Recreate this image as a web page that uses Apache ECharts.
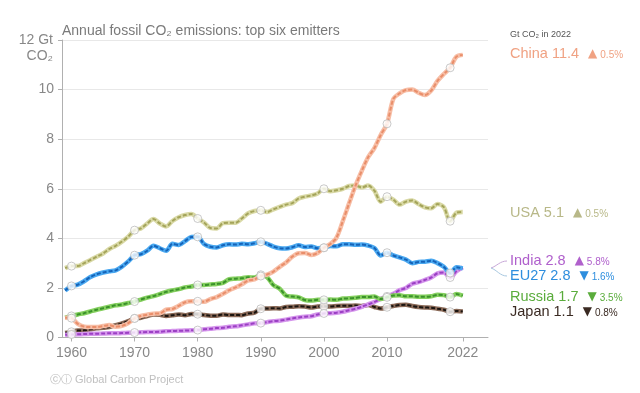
<!DOCTYPE html>
<html>
<head>
<meta charset="utf-8">
<script src="https://cdn.jsdelivr.net/npm/echarts@6/dist/echarts.min.js"></script>
<style>html,body{margin:0;padding:0;background:#fff}#c{width:640px;height:393px}</style>
</head>
<body>
<div id="c"></div>
<script>
var years = [1959,1960,1961,1962,1963,1964,1965,1966,1967,1968,1969,1970,1971,1972,1973,1974,1975,1976,1977,1978,1979,1980,1981,1982,1983,1984,1985,1986,1987,1988,1989,1990,1991,1992,1993,1994,1995,1996,1997,1998,1999,2000,2001,2002,2003,2004,2005,2006,2007,2008,2009,2010,2011,2012,2013,2014,2015,2016,2017,2018,2019,2020,2021,2022];
var china = [0.80,0.78,0.55,0.44,0.42,0.42,0.46,0.50,0.43,0.47,0.58,0.77,0.87,0.92,0.96,0.97,1.12,1.15,1.28,1.42,1.46,1.46,1.44,1.55,1.63,1.76,1.91,2.02,2.15,2.30,2.34,2.48,2.54,2.66,2.85,3.03,3.26,3.40,3.41,3.33,3.41,3.62,3.77,4.03,4.70,5.42,6.12,6.72,7.27,7.64,8.17,8.62,9.62,9.85,9.98,10.00,9.87,9.78,9.96,10.35,10.63,10.88,11.33,11.40];
var usa = [2.80,2.88,2.88,3.00,3.13,3.26,3.39,3.57,3.70,3.87,4.07,4.33,4.40,4.60,4.78,4.60,4.48,4.70,4.85,4.94,4.98,4.80,4.64,4.42,4.40,4.61,4.63,4.63,4.80,5.01,5.10,5.13,5.06,5.17,5.27,5.36,5.42,5.61,5.68,5.73,5.81,6.00,5.90,5.94,6.00,6.11,6.13,6.05,6.13,5.92,5.48,5.68,5.56,5.36,5.48,5.53,5.38,5.25,5.21,5.38,5.26,4.69,5.03,5.06];
var eu27 = [1.90,2.08,2.13,2.27,2.44,2.55,2.62,2.67,2.71,2.86,3.07,3.32,3.36,3.50,3.70,3.60,3.50,3.78,3.73,3.89,4.05,4.06,3.77,3.66,3.63,3.72,3.76,3.75,3.78,3.76,3.80,3.86,3.78,3.67,3.60,3.59,3.64,3.72,3.65,3.67,3.60,3.62,3.69,3.68,3.76,3.76,3.74,3.75,3.71,3.61,3.31,3.42,3.31,3.23,3.14,3.00,3.05,3.06,3.10,3.00,2.85,2.60,2.83,2.79];
var russia = [0.80,0.87,0.93,0.98,1.05,1.12,1.18,1.24,1.30,1.33,1.39,1.45,1.53,1.61,1.67,1.75,1.84,1.90,1.95,2.02,2.06,2.12,2.12,2.14,2.16,2.20,2.35,2.37,2.39,2.43,2.42,2.53,2.43,2.11,1.97,1.69,1.65,1.62,1.51,1.49,1.52,1.52,1.53,1.52,1.57,1.58,1.60,1.63,1.63,1.65,1.55,1.62,1.69,1.70,1.66,1.66,1.64,1.64,1.66,1.72,1.71,1.63,1.75,1.69];
var japan = [0.18,0.23,0.28,0.29,0.33,0.37,0.39,0.42,0.50,0.57,0.66,0.77,0.80,0.86,0.93,0.92,0.87,0.90,0.93,0.90,0.95,0.94,0.91,0.88,0.88,0.93,0.91,0.91,0.90,0.97,1.00,1.16,1.17,1.18,1.17,1.23,1.24,1.26,1.25,1.21,1.25,1.26,1.25,1.27,1.28,1.28,1.29,1.27,1.31,1.23,1.17,1.22,1.27,1.31,1.32,1.27,1.23,1.21,1.20,1.16,1.12,1.04,1.07,1.05];
var india = [0.11,0.12,0.13,0.14,0.15,0.15,0.16,0.17,0.17,0.18,0.19,0.20,0.21,0.22,0.22,0.23,0.25,0.26,0.27,0.28,0.29,0.30,0.33,0.35,0.38,0.39,0.43,0.45,0.49,0.53,0.57,0.58,0.62,0.66,0.68,0.72,0.77,0.81,0.84,0.86,0.93,0.97,0.98,1.00,1.04,1.10,1.16,1.24,1.34,1.43,1.56,1.66,1.76,1.91,2.00,2.17,2.23,2.32,2.42,2.59,2.62,2.42,2.67,2.83];
var markerYears = [1960,1970,1980,1990,2000,2010,2020];
var xTickLabels = [1960,1970,1980,1990,2000,2010,2022];

var seriesDefs = [
  {name:'Japan', data:japan, base:'#8a6a58', dash:'#1a1410'},
  {name:'India', data:india, base:'#d596ec', dash:'#9b3fc4'},
  {name:'Russia', data:russia, base:'#86d060', dash:'#3a922a'},
  {name:'EU27', data:eu27, base:'#4aa8f0', dash:'#1563b8'},
  {name:'USA', data:usa, base:'#d9d9a6', dash:'#a4a45a'},
  {name:'China', data:china, base:'#f7bea6', dash:'#e98e6a'}
];

var series = [];
seriesDefs.forEach(function(s, i){
  var pts = years.map(function(y, k){ return [y, s.data[k]]; });
  series.push({type:'line', name:s.name+'-base', data:pts, showSymbol:false, smooth:0.3,
    lineStyle:{color:s.base, width:4.5}, z:2+i*3, silent:true});
  series.push({type:'line', name:s.name, data:pts, showSymbol:false, smooth:0.3,
    lineStyle:{color:s.dash, width:2, type:[4,2]}, z:3+i*3, silent:true});
  var mk = pts.filter(function(p){ return markerYears.indexOf(p[0]) >= 0; });
  series.push({type:'scatter', data:mk, symbol:'circle', symbolSize:8, z:4+i*3,
    itemStyle:{color:'#fff', borderColor:'#bbb', borderWidth:1}, silent:true});
});

var labels = [
  {name:'China', val:'11.4', arrow:'▲', pct:'0.5%', color:'#f0a283', y:54},
  {name:'USA', val:'5.1', arrow:'▲', pct:'0.5%', color:'#b8b888', y:213},
  {name:'India', val:'2.8', arrow:'▲', pct:'5.8%', color:'#b060cc', y:261},
  {name:'EU27', val:'2.8', arrow:'▼', pct:'1.6%', color:'#2e8ede', y:276},
  {name:'Russia', val:'1.7', arrow:'▼', pct:'3.5%', color:'#5aac3c', y:297},
  {name:'Japan', val:'1.1', arrow:'▼', pct:'0.8%', color:'#3a2a22', y:312}
];

var graphics = [
  {type:'text', left:62, top:24, style:{text:'Annual fossil CO₂ emissions: top six emitters', font:'14px "Liberation Sans", Arial', fill:'#7a7a7a'}},
  {type:'text', right:587, top:33, style:{text:'12 Gt', font:'14px "Liberation Sans", Arial', fill:'#888', textAlign:'right'}},
  {type:'text', x:53, y:49, style:{text:'CO₂', font:'14px "Liberation Sans", Arial', fill:'#888', textAlign:'right'}},
  {type:'text', x:510, y:30, style:{text:'Gt CO₂ in 2022', font:'9px "Liberation Sans", Arial', fill:'#555'}},
  {type:'text', x:50, y:374, style:{text:'ⓒⓘ Global Carbon Project', font:'11px "Liberation Sans", Arial', fill:'#c0c0c0'}},
  {type:'bezierCurve', shape:{x1:491,y1:268,x2:507,y2:261,cpx1:497,cpy1:266,cpx2:500,cpy2:261}, style:{stroke:'#c8a8d8', lineWidth:1, fill:null}},
  {type:'bezierCurve', shape:{x1:491,y1:268,x2:507,y2:276,cpx1:497,cpy1:270,cpx2:500,cpy2:276}, style:{stroke:'#a8c8e0', lineWidth:1, fill:null}}
];
labels.forEach(function(l){
  graphics.push({type:'text', x:510, y:l.y, style:{
    text:'{a|'+l.name+' '+l.val+'}{b|'+l.arrow+'}{c|'+l.pct+'}',
    verticalAlign:'middle',
    rich:{
      a:{fontSize:14.5, fontFamily:'Liberation Sans', fill:l.color, color:l.color},
      b:{fontSize:12, fontFamily:'DejaVu Sans', fill:l.color, color:l.color, padding:[0,0,0,9]},
      c:{fontSize:10, fontFamily:'Liberation Sans', fill:l.color, color:l.color, padding:[2,0,0,3]}
    }
  }});
});

var chart = echarts.init(document.getElementById('c'), null, {renderer:'canvas'});
chart.setOption({
  animation:false,
  backgroundColor:'#fff',
  grid:{left:62, right:152, top:40, bottom:55.5, containLabel:false},
  xAxis:{type:'value', min:1958.5, max:2026,
    axisLine:{show:true, lineStyle:{color:'#b0b0b0', width:1}},
    axisTick:{show:true, length:4, lineStyle:{color:'#b0b0b0'}, customValues:xTickLabels},
    axisLabel:{customValues:xTickLabels, color:'#888', fontSize:14, fontFamily:'Liberation Sans', margin:9, formatter:function(v){return String(v);}},
    splitLine:{show:false}},
  yAxis:{type:'value', min:0, max:12, interval:2,
    axisLine:{show:true, lineStyle:{color:'#b0b0b0', width:1}},
    axisTick:{show:true, length:4, lineStyle:{color:'#b0b0b0'}},
    axisLabel:{color:'#888', fontSize:14, fontFamily:'Liberation Sans', margin:8,
      formatter:function(v){ return v === 12 ? '' : String(v); }},
    splitLine:{show:true, lineStyle:{color:'#e8e8e8', width:1}}},
  series:series,
  graphic:graphics
});
</script>
</body>
</html>
